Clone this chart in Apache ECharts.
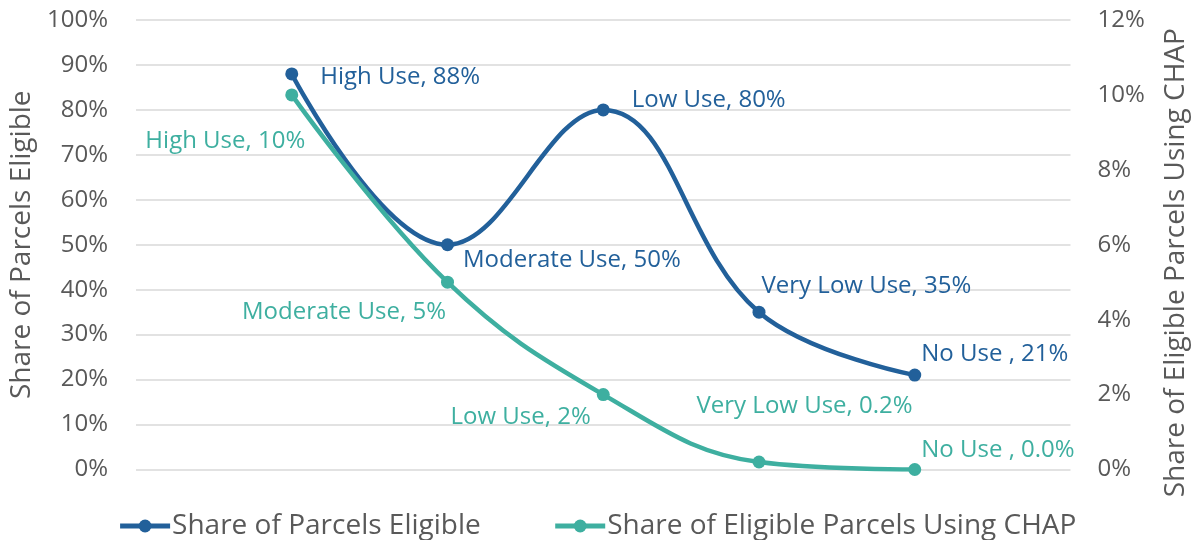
<!DOCTYPE html>
<html><head><meta charset="utf-8">
<script src="https://cdn.jsdelivr.net/npm/echarts@6/dist/echarts.min.js"></script>
<style>html,body{margin:0;padding:0;background:#fff}#c{width:1194px;height:540px}</style>
</head><body><div id="c"></div>
<script>
const categories = ['High Use', 'Moderate Use', 'Low Use', 'Very Low Use', 'No Use '];
const eligible = [88, 50, 80, 35, 21];
const usingChap = [10, 5, 2, 0.2, 0.0];
const eligibleLabels = ['88%', '50%', '80%', '35%', '21%'];
const chapLabels = ['10%', '5%', '2%', '0.2%', '0.0%'];
const leftTicks = [0, 10, 20, 30, 40, 50, 60, 70, 80, 90, 100];
const rightTicks = [0, 2, 4, 6, 8, 10, 12];

const BLUE = '#22609a', TEAL = '#3eafa0', GREY = '#595959';
const FONT = '"Open Sans", "Noto Sans", sans-serif';
// label placement relative to symbol (size 13) top-left: [dx, dy, align]
const blueLabelPos = [[35, 10, 'left'], [22, 22, 'left'], [35, -3, 'left'], [9, -20, 'left'], [13, -14, 'left']];
const tealLabelPos = [[20, 53, 'right'], [5, 36, 'right'], [-6, 29, 'right'], [-56, -49, 'left'], [13, -13, 'left']];

function build(vals, labels, pos, color) {
  return vals.map((v, i) => ({
    value: [i + 1, v],
    label: {
      show: true,
      formatter: categories[i] + ', ' + labels[i],
      position: [pos[i][0], pos[i][1]],
      align: pos[i][2],
      verticalAlign: 'middle',
      color: color, fontSize: 24, fontFamily: FONT
    }
  }));
}

const chart = echarts.init(document.getElementById('c'));
chart.setOption({
  animation: false,
  textStyle: { fontFamily: FONT },
  grid: { left: 136, right: 123.5, top: 20, bottom: 70.5, outerBoundsMode: 'none', containLabel: false },
  legend: {
    top: 507, left: 'center', itemWidth: 50, itemHeight: 16, itemGap: 72,
    lineStyle: { width: 5 },
    textStyle: { fontSize: 28, color: GREY, fontFamily: FONT, padding: [0, 0, 0, -3] },
    data: ['Share of Parcels Eligible', 'Share of Eligible Parcels Using CHAP']
  },
  xAxis: { type: 'value', min: 0, max: categories.length + 1, show: false },
  yAxis: [
    {
      type: 'value', min: leftTicks[0], max: leftTicks[leftTicks.length - 1], interval: 10,
      name: 'Share of Parcels Eligible', nameLocation: 'middle', nameGap: 100,
      nameTextStyle: { fontSize: 28, color: GREY, fontFamily: FONT },
      axisLabel: { formatter: '{value}%', fontSize: 24, color: GREY, margin: 28, fontFamily: FONT },
      axisLine: { show: false }, axisTick: { show: false },
      splitLine: { lineStyle: { color: '#d9d9d9', width: 1.5 } }
    },
    {
      type: 'value', min: rightTicks[0], max: rightTicks[rightTicks.length - 1], interval: 2,
      name: 'Share of Eligible Parcels Using CHAP', nameLocation: 'middle', nameGap: 92,
      nameTextStyle: { fontSize: 28, color: GREY, fontFamily: FONT, padding: [0, 36, 0, 0] },
      axisLabel: { formatter: '{value}%', fontSize: 24, color: GREY, margin: 27, fontFamily: FONT },
      axisLine: { show: false }, axisTick: { show: false }, splitLine: { show: false }
    }
  ],
  series: [
    {
      name: 'Share of Parcels Eligible', type: 'line', yAxisIndex: 0, smooth: 0.4,
      symbol: 'circle', symbolSize: 13,
      lineStyle: { color: BLUE, width: 4.5 }, itemStyle: { color: BLUE },
      data: build(eligible, eligibleLabels, blueLabelPos, BLUE)
    },
    {
      name: 'Share of Eligible Parcels Using CHAP', type: 'line', yAxisIndex: 1, smooth: 0.4,
      symbol: 'circle', symbolSize: 13,
      lineStyle: { color: TEAL, width: 4.5 }, itemStyle: { color: TEAL },
      data: build(usingChap, chapLabels, tealLabelPos, TEAL)
    }
  ]
});
</script></body></html>
